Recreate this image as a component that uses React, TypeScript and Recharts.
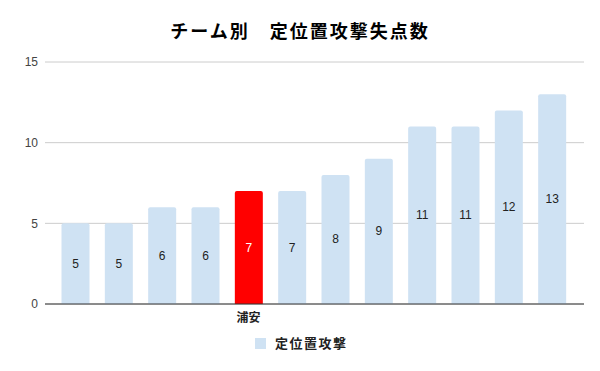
import React from "react";
import { BarChart, Bar, XAxis, YAxis, CartesianGrid, Cell, LabelList } from "recharts";

const teams = ["t1", "t2", "t3", "t4", "浦安", "t6", "t7", "t8", "t9", "t10", "t11", "t12"];
const tickLabels = ["", "", "", "", "浦安", "", "", "", "", "", "", ""];
const values = [5, 5, 6, 6, 7, 7, 8, 9, 11, 11, 12, 13];
const highlightIndex = 4;
const yTicks = [0, 5, 10, 15];

const data = teams.map((t, i) => ({ team: t, v: values[i] }));

const FONT = "'Liberation Sans', Arial, 'Noto Sans CJK JP', sans-serif";

const renderLabel = (props: any) => {
  const { x, y, width, height, value, index } = props;
  return (
    <text
      x={x + width / 2}
      y={y + height / 2}
      textAnchor="middle"
      dominantBaseline="central"
      fontSize={12}
      fontFamily={FONT}
      fill={index === highlightIndex ? "#ffffff" : "#222222"}
    >
      {value}
    </text>
  );
};

export default function App() {
  return (
    <div style={{ position: "absolute", left: 0, top: 0, width: 600, height: 371, background: "#fff", fontFamily: FONT }}>
      <div
        style={{
          position: "absolute",
          left: 0,
          top: 21,
          width: 600,
          textAlign: "center",
          fontSize: 18,
          letterSpacing: 2,
          fontWeight: "bold",
          color: "#000",
          fontFamily: FONT,
          lineHeight: "22px",
        }}
      >
        チーム別　定位置攻撃失点数
      </div>
      <BarChart
        width={600}
        height={371}
        data={data}
        margin={{ top: 62, right: 16, bottom: 37, left: 0 }}
        barCategoryGap={15}
      >
        <CartesianGrid vertical={false} stroke="#cccccc" />
        <XAxis
          dataKey="team"
          interval={0}
          height={30}
          tickLine={false}
          tickSize={0}
          tickMargin={9}
          axisLine={{ stroke: "#333333" }}
          padding={{ left: 8.5, right: 10.5 }}
          tickFormatter={(_: any, i: number) => tickLabels[i]}
          tick={{ fontSize: 12, fontWeight: "bold", fill: "#222222", fontFamily: FONT }}
        />
        <YAxis
          domain={[0, 15]}
          ticks={yTicks}
          width={45}
          tickLine={false}
          axisLine={false}
          tickSize={0}
          tickMargin={7}
          tick={{ fontSize: 12, fill: "#444444", fontFamily: FONT }}
        />
        <Bar dataKey="v" barSize={28} radius={[2, 2, 0, 0]} isAnimationActive={false}>
          {data.map((d, i) => (
            <Cell key={d.team} fill={i === highlightIndex ? "#ff0000" : "#cfe2f3"} />
          ))}
          <LabelList dataKey="v" content={renderLabel} />
        </Bar>
      </BarChart>
      <div
        style={{
          position: "absolute",
          top: 336,
          left: 255,
          display: "flex",
          alignItems: "center",
          fontSize: 13,
          fontWeight: "bold",
          color: "#222222",
          fontFamily: FONT,
          lineHeight: "15px",
        }}
      >
        <span style={{ display: "inline-block", width: 11, height: 11, background: "#cfe2f3", marginRight: 9 }} />
        <span style={{ letterSpacing: 1.5 }}>定位置攻撃</span>
      </div>
    </div>
  );
}
